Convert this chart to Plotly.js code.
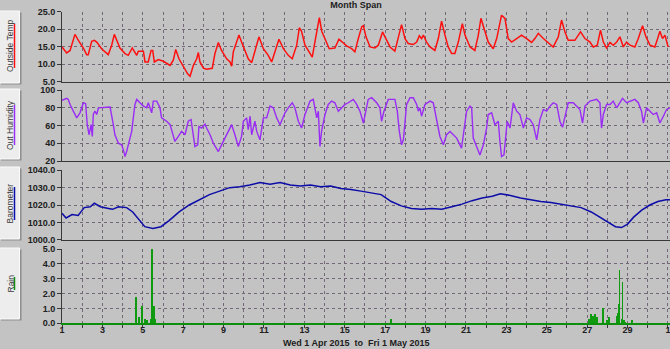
<!DOCTYPE html>
<html>
<head>
<meta charset="utf-8">
<script src="https://cdn.plot.ly/plotly-3.0.1.min.js"></script>
<style>html,body{margin:0;padding:0;background:#c3c3c3;}#chart{width:670px;height:349px;}</style>
</head>
<body>
<div id="chart"></div>
<script>
// ---- data (day-of-month, April 2015; 31 = 1 May) ----
const tempDay = [1.0,1.23,1.40,1.64,1.81,2.06,2.22,2.30,2.47,2.60,2.72,2.96,3.29,3.46,3.59,3.71,3.87,4.12,4.28,4.48,4.58,4.70,4.78,4.94,5.03,5.11,5.27,5.41,5.49,5.57,5.77,6.02,6.35,6.51,6.63,6.79,7.01,7.22,7.34,7.50,7.67,7.75,7.83,8.00,8.16,8.33,8.44,8.57,8.74,8.90,9.15,9.32,9.40,9.48,9.65,9.76,9.89,10.06,10.22,10.39,10.55,10.75,10.97,11.21,11.38,11.54,11.74,11.96,12.20,12.40,12.62,12.75,12.86,13.03,13.28,13.39,13.52,13.74,13.86,14.02,14.23,14.51,14.71,14.88,15.09,15.34,15.50,15.67,15.84,15.92,16.05,16.25,16.49,16.66,16.87,16.99,17.24,17.48,17.65,17.81,17.98,18.14,18.39,18.56,18.69,18.80,18.89,19.05,19.22,19.46,19.63,19.79,19.96,20.12,20.29,20.45,20.62,20.82,20.95,21.20,21.44,21.61,21.74,21.89,22.10,22.35,22.52,22.76,22.93,23.09,23.26,23.51,23.75,24.00,24.25,24.41,24.58,24.83,25.07,25.32,25.57,25.73,25.90,26.06,26.39,26.67,26.89,27.14,27.30,27.50,27.66,27.80,27.96,28.13,28.29,28.46,28.62,28.79,28.95,29.12,29.36,29.53,29.74,29.91,30.11,30.35,30.49,30.60,30.73,30.85,31.01];
const tempC = [14.9,13.2,13.9,18.5,16.8,14.6,12.7,12.7,16.5,16.8,16.3,14.4,12.7,15.4,18.5,16.8,14.6,13.0,12.5,14.6,13.7,12.5,13.7,13.7,13.7,10.6,10.6,13.9,13.9,10.6,11.3,10.8,9.6,11.1,14.2,11.5,9.4,7.2,6.5,9.6,11.5,13.3,10.6,8.8,8.5,8.7,8.8,13.0,16.2,13.9,11.5,10.6,9.4,13.5,16.8,18.3,16.3,13.5,11.5,10.4,13.5,17.8,14.4,12.5,10.6,13.5,17.1,14.4,12.5,11.5,15.4,20.4,19.4,15.4,13.0,12.0,16.3,23.3,19.4,17.3,14.4,14.6,17.1,16.3,15.2,14.4,13.5,17.3,20.7,21.0,17.8,14.9,14.6,15.4,19.2,17.8,14.9,13.7,17.3,21.3,17.3,15.9,15.6,16.3,18.1,17.3,18.3,16.3,14.9,13.9,17.3,22.3,18.3,14.9,13.0,13.0,16.3,21.6,18.3,14.9,13.9,18.3,23.1,20.2,16.3,14.4,17.3,24.0,23.1,17.3,16.3,17.3,18.3,17.3,16.2,17.3,18.8,17.3,16.2,14.9,17.8,22.6,19.2,16.8,16.8,19.2,17.3,16.3,14.9,15.4,19.7,16.3,14.6,16.2,15.4,16.3,17.8,14.9,16.3,15.4,14.9,17.3,21.0,17.8,15.4,14.9,17.3,19.4,17.3,18.3,14.9];

const humDay = [1.0,1.23,1.31,1.40,1.56,1.73,1.89,2.06,2.17,2.25,2.34,2.44,2.50,2.55,2.63,2.72,2.80,3.13,3.38,3.54,3.62,3.79,3.95,4.04,4.12,4.20,4.28,4.45,4.61,4.70,4.86,5.03,5.19,5.27,5.44,5.52,5.69,5.85,5.93,6.18,6.35,6.59,6.76,6.92,7.09,7.25,7.39,7.50,7.58,7.72,7.78,7.91,8.08,8.16,8.33,8.49,8.66,8.74,8.90,9.07,9.23,9.40,9.56,9.73,9.89,9.98,10.14,10.22,10.31,10.39,10.55,10.64,10.80,10.97,11.13,11.30,11.46,11.63,11.79,12.04,12.20,12.40,12.53,12.70,12.86,13.03,13.28,13.44,13.61,13.69,13.77,13.85,14.02,14.18,14.35,14.51,14.68,14.84,15.01,15.17,15.42,15.59,15.75,15.92,16.16,16.33,16.58,16.74,16.82,16.94,17.15,17.48,17.60,17.70,17.81,17.90,18.06,18.23,18.39,18.56,18.64,18.72,18.80,18.97,19.22,19.38,19.55,19.71,19.88,20.04,20.21,20.37,20.54,20.70,20.78,20.87,21.03,21.20,21.28,21.36,21.53,21.69,21.86,22.02,22.10,22.27,22.43,22.60,22.68,22.76,22.88,22.98,23.04,23.18,23.34,23.51,23.67,23.84,24.00,24.17,24.33,24.50,24.66,24.83,24.99,25.16,25.32,25.49,25.65,25.78,25.90,26.06,26.31,26.64,26.77,26.89,27.14,27.47,27.63,27.71,27.80,27.96,28.13,28.29,28.46,28.62,28.75,28.95,29.20,29.36,29.53,29.69,29.78,29.94,30.11,30.27,30.44,30.60,30.77,30.93,31.10];
const humPct = [88.6,90.9,89.7,84.0,76.4,68.8,74.5,85.9,84.8,61.1,49.7,61.1,47.8,72.6,76.4,72.6,80.2,81.0,81.0,61.1,49.7,40.2,38.3,32.6,25.0,30.7,38.3,53.5,84.0,89.7,85.9,82.1,80.2,85.9,74.5,87.8,87.8,80.2,68.8,65.0,61.1,42.1,47.8,53.5,49.7,65.0,66.9,45.9,36.4,38.3,59.2,57.3,61.9,57.3,49.7,40.2,32.6,30.7,38.3,45.9,53.5,61.1,49.7,36.4,47.8,65.0,68.8,55.4,70.7,49.7,65.0,53.5,44.0,68.8,68.8,82.1,80.2,68.8,61.1,74.5,80.2,85.9,80.2,65.0,57.3,72.6,87.8,89.7,68.8,76.4,36.4,53.5,72.6,84.0,87.8,85.9,76.4,80.2,84.0,85.9,89.7,84.0,76.4,63.0,89.7,91.6,85.9,80.2,65.0,76.4,89.7,89.7,76.4,53.5,38.3,44.0,84.0,91.6,91.6,84.0,76.4,80.2,70.7,84.0,87.8,85.9,65.0,47.8,38.3,49.7,53.5,49.7,45.9,38.3,34.5,49.7,76.4,82.1,80.2,45.9,36.4,26.9,38.3,57.3,72.6,74.5,61.1,65.0,42.1,25.0,26.9,49.7,65.0,57.3,85.9,76.4,72.6,57.3,68.8,66.9,61.1,44.0,66.9,78.3,76.4,82.1,85.9,84.0,65.0,58.1,68.8,85.9,85.9,78.3,63.0,82.1,87.8,89.7,85.9,57.3,72.6,84.0,84.0,87.8,80.2,85.9,90.9,85.9,87.8,89.7,85.9,76.4,63.0,80.2,76.4,72.6,74.5,63.0,70.7,78.3,80.2];

const baroDay = [1.0,1.2,1.5,1.8,2.1,2.4,2.6,2.9,3.3,3.5,3.8,4.2,4.5,4.8,5.1,5.5,5.9,6.3,6.8,7.3,7.8,8.3,8.8,9.3,9.8,10.3,10.8,11.3,11.8,12.3,12.8,13.3,13.8,14.3,14.8,15.3,15.8,16.3,16.8,17.3,17.8,18.3,18.8,19.3,19.8,20.3,20.8,21.3,21.8,22.3,22.7,23.2,23.7,24.2,24.7,25.2,25.7,26.2,26.7,27.2,27.6,28.0,28.4,28.7,29.0,29.3,29.7,30.1,30.5,30.9,31.1];
const baroHpa = [1015.2,1012.5,1014.5,1014.0,1018.5,1019.0,1021.0,1019.0,1018.0,1017.5,1019.0,1018.5,1016.0,1012.0,1007.5,1006.5,1007.5,1011.0,1016.0,1020.0,1023.0,1026.0,1028.0,1030.0,1030.5,1031.5,1033.0,1032.0,1033.0,1031.5,1031.0,1031.5,1030.5,1031.0,1029.5,1029.0,1028.0,1027.0,1026.0,1022.0,1019.5,1018.0,1017.5,1018.0,1017.5,1019.0,1020.5,1022.5,1024.0,1025.0,1026.5,1025.5,1024.0,1023.0,1022.0,1021.5,1020.5,1019.5,1018.5,1016.0,1013.0,1010.0,1007.5,1007.0,1009.0,1013.0,1017.0,1020.0,1022.0,1023.0,1023.0];

const rainDay = [4.66,4.82,4.97,5.10,5.20,5.42,5.47,5.56,5.63,17.30,27.10,27.20,27.30,27.40,27.50,27.80,28.00,28.10,28.45,28.50,28.55,28.60,28.70,28.75,28.80,28.85,29.20];
const rainMm  = [1.75,0.4,1.15,0.3,0.2,0.3,5.0,1.15,0.3,0.3,0.3,0.6,0.5,0.6,0.4,1.0,0.2,0.4,0.5,0.7,1.3,3.6,0.3,2.8,0.2,0.1,0.2];

const tickDays = [1,2,3,4,5,6,7,8,9,10,11,12,13,14,15,16,17,18,19,20,21,22,23,24,25,26,27,28,29,30,31];
const tickLabels = ['1','','3','','5','','7','','9','','11','','13','','15','','17','','19','','21','','23','','25','','27','','29','','1'];

// ---- layout helpers (pixel -> paper) ----
const W = 670, H = 349;
const px = v => v / W;
const py = v => 1 - v / H;

const FONT = "'Liberation Sans Narrow','Liberation Sans',Arial,sans-serif";
const GRID = '#726878';
const AXIS = '#383838';

function xAxis(anchor, showLabels, lineColor, lineWidth) {
  const a = {
    domain: [px(62), 1], anchor: anchor, range: [1, 31.1],
    tickmode: 'array', tickvals: tickDays,
    ticktext: showLabels ? tickLabels : tickDays.map(() => ''),
    showticklabels: showLabels,
    ticks: showLabels ? 'outside' : '', ticklen: 3, tickcolor: AXIS,
    ticklabelstandoff: showLabels ? -6 : 0, ticklabeloverflow: 'allow',
    showgrid: true, gridcolor: GRID, griddash: 'dot', gridwidth: 1,
    showline: true, linecolor: lineColor || AXIS, linewidth: lineWidth || 1,
    zeroline: false, fixedrange: true,
    tickfont: {family: FONT, size: 9, color: '#202020', weight: 'bold'}
  };
  if (anchor !== 'y') a.matches = 'x';
  return a;
}
function yAxis(anchor, top, bottom, range, dtick, fmt) {
  return {
    domain: [py(bottom), py(top)], anchor: anchor, range: range, dtick: dtick,
    tick0: range[0], tickformat: fmt,
    ticks: 'outside', ticklen: 4, tickcolor: AXIS,
    showgrid: true, gridcolor: GRID, griddash: 'dot', gridwidth: 1,
    showline: true, linecolor: AXIS, linewidth: 1, zeroline: false, fixedrange: true,
    tickfont: {family: FONT, size: 9, color: '#202020', weight: 'bold'}
  };
}

const traces = [
  {x: tempDay, y: tempC, xaxis: 'x', yaxis: 'y', type: 'scatter', mode: 'lines',
   line: {color: '#ff1010', width: 1.5}, hoverinfo: 'skip'},
  {x: humDay, y: humPct, xaxis: 'x2', yaxis: 'y2', type: 'scatter', mode: 'lines',
   line: {color: '#9a2cf5', width: 1.4}, hoverinfo: 'skip'},
  {x: baroDay, y: baroHpa, xaxis: 'x3', yaxis: 'y3', type: 'scatter', mode: 'lines',
   line: {color: '#0c0ca8', width: 1.5}, hoverinfo: 'skip'},
  {x: rainDay, y: rainMm, xaxis: 'x4', yaxis: 'y4', type: 'bar', width: 0.095,
   marker: {color: '#109a10', line: {width: 0}}, hoverinfo: 'skip'}
];

// side label boxes
const boxes = [
  {top: 11, bottom: 83, text: 'Outside Temp', color: '#ff1010', u0: 24, u1: 68},
  {top: 89, bottom: 159, text: 'Out Humidity', color: '#9a2cf5', u0: 105, u1: 145},
  {top: 167, bottom: 239, text: 'Barometer', color: '#0c0ca8', u0: 187, u1: 220},
  {top: 248, bottom: 319, text: 'Rain', color: '#0e900e', u0: 277, u1: 290}
];
const shapes = [];
const annotations = [];
boxes.forEach(b => {
  shapes.push({type: 'rect', xref: 'paper', yref: 'paper', layer: 'below',
    x0: px(1), x1: px(21.5), y0: py(b.bottom + 1.5), y1: py(b.top + 1.5),
    fillcolor: '#8e8e8e', line: {width: 0}});
  shapes.push({type: 'rect', xref: 'paper', yref: 'paper', layer: 'below',
    x0: px(-1), x1: px(19.5), y0: py(b.bottom), y1: py(b.top),
    fillcolor: '#ededed', line: {color: '#fafafa', width: 1}});
  shapes.push({type: 'line', xref: 'paper', yref: 'paper',
    x0: px(14.5), x1: px(14.5), y0: py(b.u1), y1: py(b.u0),
    line: {color: b.color, width: 1.5}});
  annotations.push({text: b.text, xref: 'paper', yref: 'paper', showarrow: false,
    x: px(10), y: py((b.u0 + b.u1) / 2), xanchor: 'center', yanchor: 'middle',
    textangle: -90, font: {family: "'Liberation Sans',Arial,sans-serif", size: 8.5, color: '#3a3a3a'}});
});
annotations.push({text: 'Wed 1 Apr 2015  to  Fri 1 May 2015', xref: 'paper', yref: 'paper',
  showarrow: false, x: px(356), y: py(342.5), xanchor: 'center', yanchor: 'middle',
  font: {family: FONT, size: 9, color: '#202020', weight: 'bold'}});

const layout = {
  width: W, height: H,
  margin: {l: 0, r: 0, t: 0, b: 0, pad: 0},
  paper_bgcolor: '#c3c3c3', plot_bgcolor: '#c3c3c3',
  showlegend: false, bargap: 0,
  title: {text: 'Month Span', x: px(356), y: py(4.5), xanchor: 'center', yanchor: 'middle',
          font: {family: FONT, size: 9, color: '#202020', weight: 'bold'}},
  xaxis: xAxis('y', false),
  xaxis2: xAxis('y2', false),
  xaxis3: xAxis('y3', false),
  xaxis4: xAxis('y4', true, '#0e900e', 2),
  yaxis: yAxis('x', 11.7, 81.5, [5, 25], 5, '.1f'),
  yaxis2: yAxis('x2', 90.3, 161, [20, 100], 20, 'd'),
  yaxis3: yAxis('x3', 170.3, 239.7, [1000, 1040], 10, '.1f'),
  yaxis4: yAxis('x4', 249, 323.3, [0, 5], 1, '.1f'),
  shapes: shapes, annotations: annotations
};

Plotly.newPlot('chart', traces, layout, {displayModeBar: false, staticPlot: true});
</script>
</body>
</html>
